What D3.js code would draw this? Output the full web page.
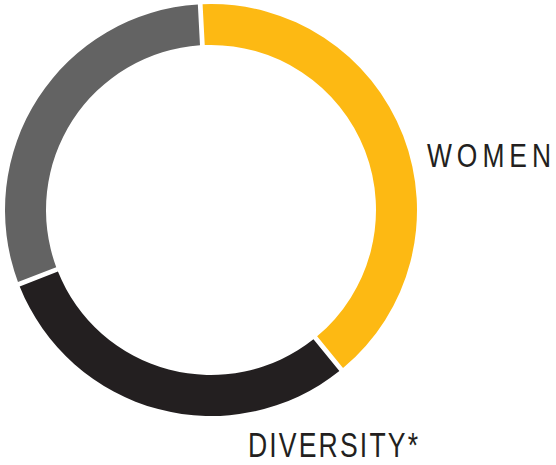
<!DOCTYPE html>
<html>
<head>
<meta charset="utf-8">
<script src="https://cdn.jsdelivr.net/npm/d3@7"></script>
<style>
  body { margin: 0; background: #fff; }
  .label { font-family: "Liberation Sans", Arial, sans-serif; fill: #231f20; }
</style>
</head>
<body>
<div id="donut"></div>
<script>
// data
var categories = ["Women", "Diversity*", "Other"];
var values = [40, 30, 30];
var labels = ["WOMEN", "DIVERSITY*", ""];
var colors = ["#fdb913", "#231f20", "#636363"];

var width = 556, height = 465;
var cx = 211, cy = 210,
    outerR = 206, innerR = 165;

var svg = d3.select("#donut")
    .append("svg")
    .attr("width", width)
    .attr("height", height);

var g = svg.append("g")
    .attr("transform", "translate(" + cx + "," + cy + ")");

var pie = d3.pie()
    .sort(null)
    .startAngle(-3 * Math.PI / 180)
    .endAngle(2 * Math.PI - 3 * Math.PI / 180)
    .padAngle(0.018);

var arc = d3.arc()
    .innerRadius(innerR)
    .outerRadius(outerR);

var slices = categories.map(function (c, i) {
    return { cat: c, value: values[i], label: labels[i], color: colors[i] };
});

g.selectAll("path")
    .data(pie.value(function (d) { return d.value; })(slices))
    .enter()
    .append("path")
    .attr("d", arc)
    .attr("fill", function (d) { return d.data.color; });

// label spots; the original uses a condensed face with open tracking,
// so narrow the glyphs and spread them back out to the width
var labelPos = [
    { x: 427, y: 167, size: 33, len: 124, squeeze: 0.8 },
    { x: 248, y: 457, size: 35, len: 170, squeeze: 0.76 }
];

labelPos.forEach(function (p, i) {
    svg.append("text")
        .attr("class", "label")
        .attr("transform", "translate(" + p.x + "," + p.y + ") scale(" + p.squeeze + ",1)")
        .attr("textLength", p.len / p.squeeze)
        .attr("lengthAdjust", "spacing")
        .style("font-size", p.size + "px")
        .text(labels[i]);
});
</script>
</body>
</html>
